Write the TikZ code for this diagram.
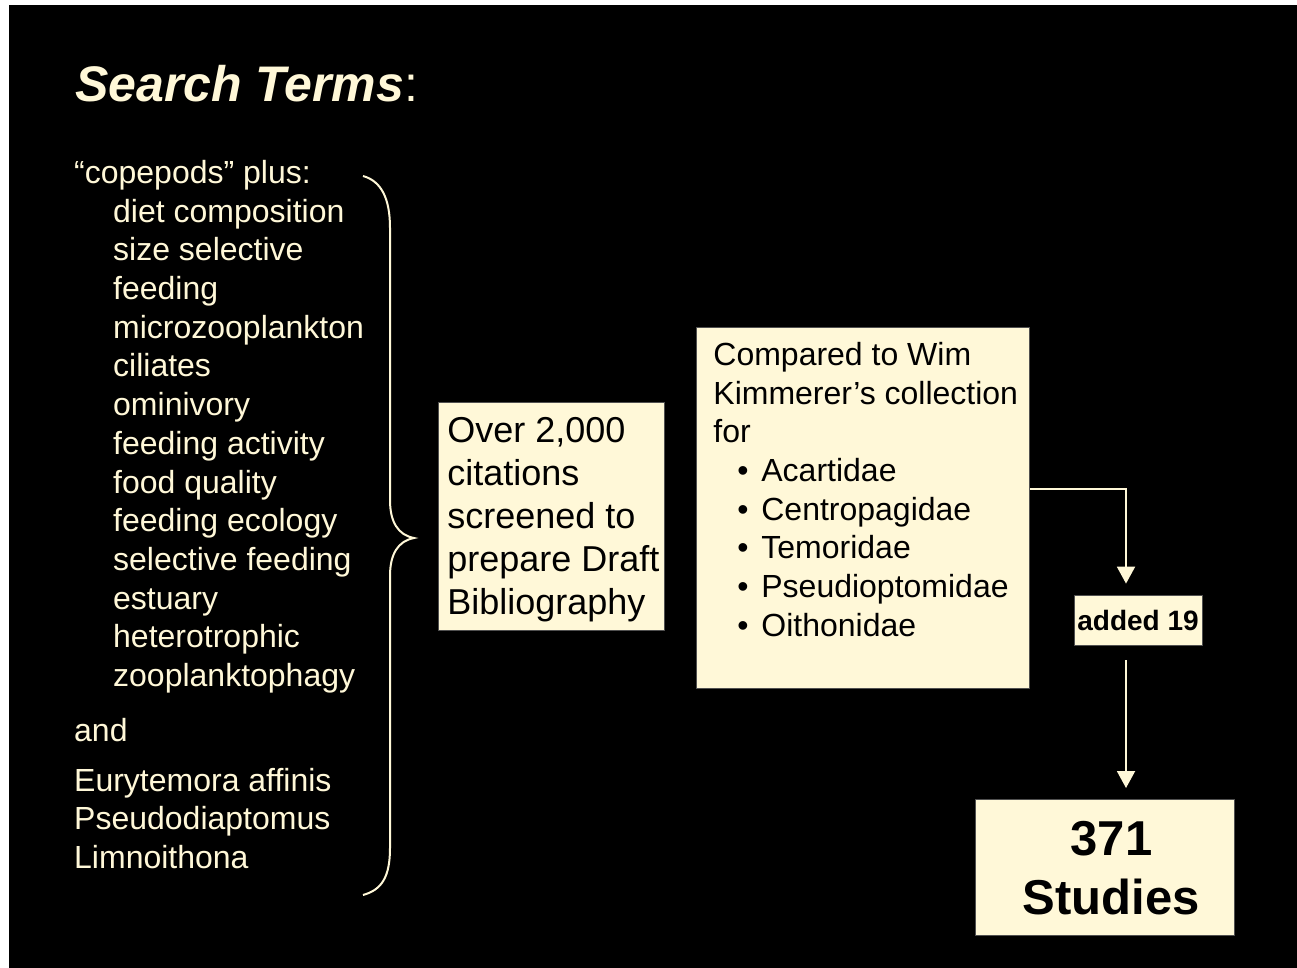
\documentclass[tikz,border=0pt]{standalone}
\usepackage{fontspec}
\setmainfont{Liberation Sans}
\usetikzlibrary{arrows.meta}
\definecolor{cream}{HTML}{FFF8D8}
\definecolor{edgegray}{HTML}{505050}
\newcommand\bulitem{\makebox[48pt][l]{\hspace{24pt}•}}
\begin{document}
\begin{tikzpicture}[x=1pt,y=-1pt,
  box/.style={fill=cream,draw=edgegray,line width=0.8pt,inner sep=0pt,anchor=north west},
  arr/.style={draw=cream,line width=2pt,-{Triangle[width=18pt,length=17pt,fill=cream]}},
  light/.style={text=cream,inner sep=0pt,anchor=base west}]
\useasboundingbox (0,0) rectangle (1297,968);
\fill[white] (0,0) rectangle (1297,968);
\fill[black] (9,5) rectangle (1297,968);

\node[light] (title) at (75,102) {\fontsize{50}{60}\selectfont\textbf{\textit{Search Terms}}:};

\node[light] (terms) at (74,183.5) {\parbox[t]{330pt}{\fontsize{32}{38.7}\selectfont\raggedright
“copepods” plus:\\
\hspace*{39pt}diet composition\\
\hspace*{39pt}size selective\\
\hspace*{39pt}feeding\\
\hspace*{39pt}microzooplankton\\
\hspace*{39pt}ciliates\\
\hspace*{39pt}ominivory\\
\hspace*{39pt}feeding activity\\
\hspace*{39pt}food quality\\
\hspace*{39pt}feeding ecology\\
\hspace*{39pt}selective feeding\\
\hspace*{39pt}estuary\\
\hspace*{39pt}heterotrophic\\
\hspace*{39pt}zooplanktophagy\\[15.7pt]
and\\[11.3pt]
Eurytemora affinis\\
Pseudodiaptomus\\
Limnoithona}};

\draw[cream,line width=2pt] (363,176) .. controls (381,181) and (390,198) .. (390,228) -- (390,500) .. controls (390,522) and (398,535) .. (414,538) .. controls (398,541) and (390,554) .. (390,576) -- (390,848) .. controls (390,878) and (381,890) .. (363,895);

\node[box,text height=40pt,text depth=188pt] (b1) at (438,402) {\parbox[t]{226pt}{\fontsize{36}{43}\selectfont\raggedright\leftskip=9pt
Over 2,000\\citations\\screened to\\prepare Draft\\Bibliography}};

\node[box,text height=38pt,text depth=323pt] (b2) at (696,327) {\parbox[t]{333pt}{\fontsize{32}{38.7}\selectfont\raggedright\leftskip=17pt
Compared to Wim\\Kimmerer’s collection\\for\\
\bulitem Acartidae\\\bulitem Centropagidae\\\bulitem Temoridae\\\bulitem Pseudioptomidae\\\bulitem Oithonidae}};

\node[box,anchor=center,minimum width=128pt,minimum height=50pt,font=\fontsize{28}{34}\selectfont\bfseries] (added) at (1138,620) {added 19};

\node[box,text height=56.5pt,text depth=79.5pt] (final) at (975,799) {\parbox[t]{259pt}{\fontsize{49}{59}\selectfont\bfseries\centering
\hspace*{13pt}371\\\hspace*{13pt}Studies}};

\coordinate (k1) at (1126,489);
\draw[arr,shorten >=11pt] (b2.east |- k1) -- (k1) -- (k1 |- added.north);
\draw[arr,shorten <=15pt,shorten >=11pt] (k1 |- added.south) -- (k1 |- final.north);
\end{tikzpicture}
\end{document}
